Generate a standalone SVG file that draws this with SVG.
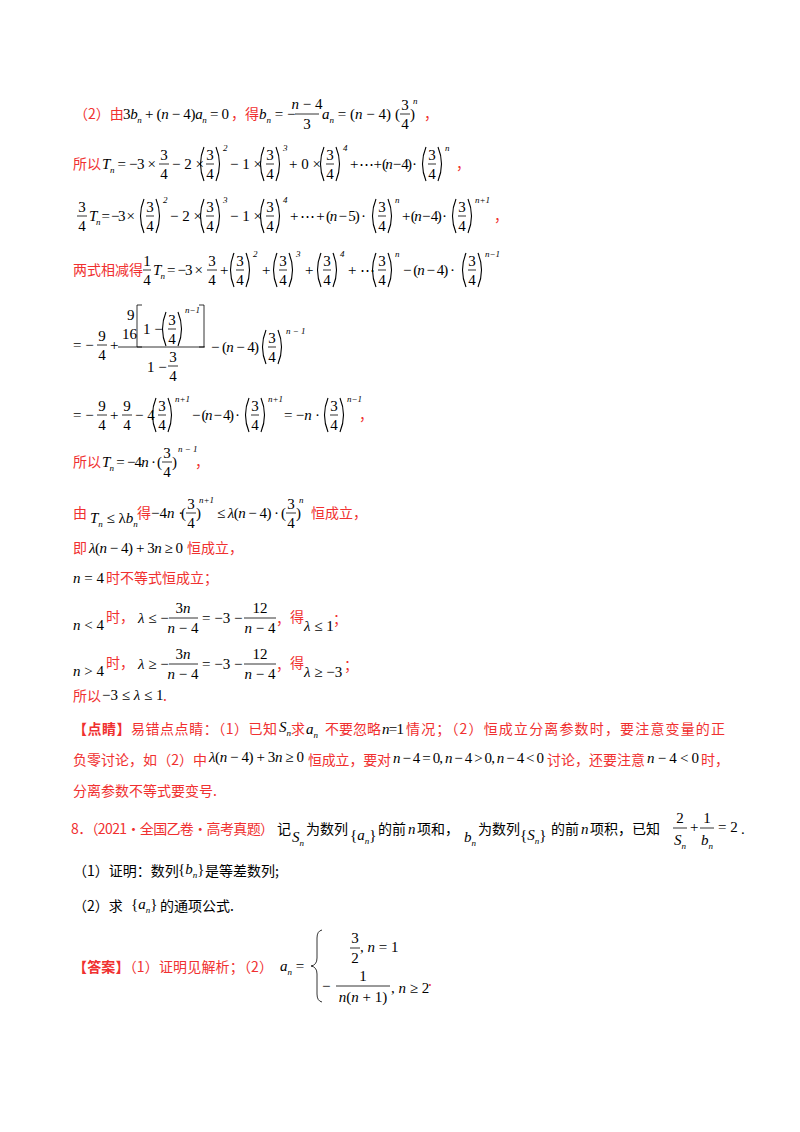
<svg xmlns="http://www.w3.org/2000/svg" xmlns:xlink="http://www.w3.org/1999/xlink" width="800" height="1132" viewBox="0 0 800 1132">
<style>
.m{font-family:"Liberation Serif",serif;font-size:15px;fill:#000}
.i{font-style:italic}
.s{font-size:9px;font-style:italic;baseline-shift:-4px}
.u{font-family:"Liberation Serif",serif;font-size:9px;font-style:italic;fill:#000}
.r{font-family:"Noto Sans CJK SC",sans-serif;font-size:14px;fill:#f03030}
.k{font-family:"Noto Sans CJK SC",sans-serif;font-size:14px;fill:#000}
.fl{stroke:#000;stroke-width:0.8;fill:none}
.pa{stroke:#000;stroke-width:1.1;fill:none}
</style>
<defs>
<g id="P"><path class="pa" d="M6,-17 Q-1,0 6,17 M18,-17 Q25,0 18,17"/><text class="m" x="12" y="-4" text-anchor="middle">3</text><line class="fl" x1="8" y1="0" x2="16" y2="0"/><text class="m" x="12" y="15" text-anchor="middle">4</text></g>
<g id="F"><text class="m" x="5" y="-4" text-anchor="middle">3</text><line class="fl" x1="0" y1="0" x2="10" y2="0"/><text class="m" x="5" y="15" text-anchor="middle">4</text></g>
<g id="N"><text class="m" x="5" y="-4" text-anchor="middle">9</text><line class="fl" x1="0" y1="0" x2="10" y2="0"/><text class="m" x="5" y="15" text-anchor="middle">4</text></g>
<g id="SP"><text class="m" x="0" y="5">(</text><use xlink:href="#F" x="5"/><text class="m" x="15" y="5">)</text></g>
</defs>
<rect width="800" height="1132" fill="#fff"/>

<g id="row1">
<text class="r" x="74" y="119">（2）由</text>
<text class="m" x="123" y="119" textLength="106">3<tspan class="i">b</tspan><tspan class="s">n</tspan> + (<tspan class="i">n</tspan> − 4)<tspan class="i">a</tspan><tspan class="s">n</tspan> = 0</text>
<text class="r" x="231" y="119">，得</text>
<text class="m" x="259" y="119"><tspan class="i">b</tspan><tspan class="s">n</tspan> = −</text>
<text class="m" x="307" y="109" text-anchor="middle"><tspan class="i">n</tspan> − 4</text>
<line class="fl" x1="295" y1="114" x2="319" y2="114"/>
<text class="m" x="307" y="129" text-anchor="middle">3</text>
<text class="m" x="322" y="119"><tspan class="i">a</tspan><tspan class="s">n</tspan> = (<tspan class="i">n</tspan> − 4)</text>
<use xlink:href="#SP" x="395" y="114"/>
<text class="u" x="413" y="104">n</text>
<text class="r" x="424" y="119">，</text>
</g>

<g id="row2">
<text class="r" x="73" y="169">所以</text>
<text class="m" x="102" y="169" textLength="54"><tspan class="i">T</tspan><tspan class="s">n</tspan> = −3 ×</text>
<use xlink:href="#F" x="159" y="164"/>
<text class="m" x="172" y="169">− 2 ×</text>
<use xlink:href="#P" x="198" y="164"/><text class="u" x="223" y="151">2</text>
<text class="m" x="230" y="169">− 1 ×</text>
<use xlink:href="#P" x="258" y="164"/><text class="u" x="283" y="151">3</text>
<text class="m" x="289" y="169">+ 0 ×</text>
<use xlink:href="#P" x="318" y="164"/><text class="u" x="343" y="151">4</text>
<text class="m" x="350" y="169" textLength="67">+ ⋯ + (<tspan class="i">n</tspan> − 4) ·</text>
<use xlink:href="#P" x="420" y="164"/><text class="u" x="445" y="151">n</text>
<text class="r" x="456" y="169">，</text>
</g>

<g id="row3">
<use xlink:href="#F" x="77" y="216"/>
<text class="m" x="89" y="221" textLength="46"><tspan class="i">T</tspan><tspan class="s">n</tspan> = −3 ×</text>
<use xlink:href="#P" x="138" y="216"/><text class="u" x="163" y="203">2</text>
<text class="m" x="170" y="221">− 2 ×</text>
<use xlink:href="#P" x="198" y="216"/><text class="u" x="223" y="203">3</text>
<text class="m" x="230" y="221">− 1 ×</text>
<use xlink:href="#P" x="258" y="216"/><text class="u" x="283" y="203">4</text>
<text class="m" x="290" y="221" textLength="76">+ ⋯ + (<tspan class="i">n</tspan> − 5) ·</text>
<use xlink:href="#P" x="370" y="216"/><text class="u" x="395" y="203">n</text>
<text class="m" x="402" y="221" textLength="45">+ (<tspan class="i">n</tspan> − 4) ·</text>
<use xlink:href="#P" x="450" y="216"/><text class="u" x="475" y="203">n+1</text>
<text class="r" x="494" y="221">，</text>
</g>

<g id="row4">
<text class="r" x="73" y="275">两式相减得</text>
<text class="m" x="147" y="266" text-anchor="middle">1</text>
<line class="fl" x1="143" y1="270" x2="151" y2="270"/>
<text class="m" x="147" y="285" text-anchor="middle">4</text>
<text class="m" x="153" y="275" textLength="50"><tspan class="i">T</tspan><tspan class="s">n</tspan> = −3 ×</text>
<use xlink:href="#F" x="207" y="270"/>
<text class="m" x="220" y="275">+</text>
<use xlink:href="#P" x="228" y="270"/><text class="u" x="253" y="257">2</text>
<text class="m" x="262" y="275">+</text>
<use xlink:href="#P" x="271" y="270"/><text class="u" x="296" y="257">3</text>
<text class="m" x="305" y="275">+</text>
<use xlink:href="#P" x="315" y="270"/><text class="u" x="340" y="257">4</text>
<text class="m" x="348" y="275">+ ⋯</text>
<use xlink:href="#P" x="370" y="270"/><text class="u" x="395" y="257">n</text>
<text class="m" x="403" y="275" textLength="52">− (<tspan class="i">n</tspan> − 4) ·</text>
<use xlink:href="#P" x="460" y="270"/><text class="u" x="485" y="257">n−1</text>
</g>

<g id="row5">
<text class="m" x="73" y="350">= −</text>
<use xlink:href="#N" x="97" y="345"/>
<text class="m" x="110" y="350">+</text>
<text class="m" x="127" y="320">9</text>
<text class="m" x="122" y="339">16</text>
<path class="fl" d="M142,305 H137 V347 H142 M199,305 H204 V347 H199"/>
<text class="m" x="143" y="334">1 −</text>
<use xlink:href="#P" x="160" y="329"/><text class="u" x="185" y="313">n−1</text>
<line class="fl" x1="118" y1="347" x2="205" y2="347"/>
<text class="m" x="147" y="372">1 −</text>
<use xlink:href="#F" x="168" y="366"/>
<text class="m" x="211" y="352" textLength="48">− (<tspan class="i">n</tspan> − 4)</text>
<use xlink:href="#P" x="260" y="347"/><text class="u" x="286" y="334">n − 1</text>
</g>

<g id="row6">
<text class="m" x="73" y="420">= −</text>
<use xlink:href="#N" x="97" y="415"/>
<text class="m" x="110" y="420">+</text>
<use xlink:href="#N" x="122" y="415"/>
<text class="m" x="135" y="420">− 4</text>
<use xlink:href="#P" x="150" y="415"/><text class="u" x="175" y="402">n+1</text>
<text class="m" x="192" y="420" textLength="48">− (<tspan class="i">n</tspan> − 4) ·</text>
<use xlink:href="#P" x="243" y="415"/><text class="u" x="268" y="402">n+1</text>
<text class="m" x="284" y="420" textLength="36">= −<tspan class="i">n</tspan> ·</text>
<use xlink:href="#P" x="322" y="415"/><text class="u" x="347" y="402">n−1</text>
<text class="r" x="359" y="420">，</text>
</g>

<g id="row7">
<text class="r" x="73" y="467">所以</text>
<text class="m" x="102" y="467" textLength="54"><tspan class="i">T</tspan><tspan class="s">n</tspan> = −4<tspan class="i">n</tspan> ·</text>
<use xlink:href="#SP" x="157" y="462"/>
<text class="u" x="178" y="452">n − 1</text>
<text class="r" x="195" y="467">，</text>
</g>

<g id="row8">
<text class="r" x="73" y="518">由</text>
<text class="m" x="90" y="523"><tspan class="i">T</tspan><tspan class="s">n</tspan> ≤ λ<tspan class="i">b</tspan><tspan class="s">n</tspan></text>
<text class="r" x="137" y="518">得</text>
<text class="m" x="151" y="518">−4<tspan class="i">n</tspan> ·</text>
<use xlink:href="#SP" x="181" y="513"/><text class="u" x="199" y="503">n+1</text>
<text class="m" x="217" y="518" textLength="62">≤ <tspan class="i">λ</tspan>(<tspan class="i">n</tspan> − 4) ·</text>
<use xlink:href="#SP" x="281" y="513"/><text class="u" x="299" y="503">n</text>
<text class="r" x="311" y="518">恒成立，</text>
</g>

<g id="row9">
<text class="r" x="73" y="553">即</text>
<text class="m" x="89" y="553" textLength="94"><tspan class="i">λ</tspan>(<tspan class="i">n</tspan> − 4) + 3<tspan class="i">n</tspan> ≥ 0</text>
<text class="r" x="187" y="553">恒成立，</text>
</g>

<g id="row10">
<text class="m" x="73" y="583"><tspan class="i">n</tspan> = 4</text>
<text class="r" x="106" y="583">时不等式恒成立；</text>
</g>

<g id="row11">
<text class="m" x="73" y="630"><tspan class="i">n</tspan> &lt; 4</text>
<text class="r" x="106" y="622">时，</text>
<text class="m" x="138" y="623"><tspan class="i">λ</tspan> ≤ −</text>
<text class="m" x="183" y="613" text-anchor="middle">3<tspan class="i">n</tspan></text>
<line class="fl" x1="169" y1="618" x2="198" y2="618"/>
<text class="m" x="183" y="633" text-anchor="middle"><tspan class="i">n</tspan> − 4</text>
<text class="m" x="202" y="623">= −3 −</text>
<text class="m" x="260" y="613" text-anchor="middle">12</text>
<line class="fl" x1="244" y1="618" x2="276" y2="618"/>
<text class="m" x="260" y="633" text-anchor="middle"><tspan class="i">n</tspan> − 4</text>
<text class="r" x="276" y="624">，</text>
<text class="r" x="290" y="622">得</text>
<text class="m" x="304" y="631"><tspan class="i">λ</tspan> ≤ 1</text>
<text class="r" x="333" y="624">；</text>
</g>

<g id="row12">
<text class="m" x="73" y="676"><tspan class="i">n</tspan> &gt; 4</text>
<text class="r" x="106" y="668">时，</text>
<text class="m" x="138" y="669"><tspan class="i">λ</tspan> ≥ −</text>
<text class="m" x="183" y="659" text-anchor="middle">3<tspan class="i">n</tspan></text>
<line class="fl" x1="169" y1="664" x2="198" y2="664"/>
<text class="m" x="183" y="679" text-anchor="middle"><tspan class="i">n</tspan> − 4</text>
<text class="m" x="202" y="669">= −3 −</text>
<text class="m" x="260" y="659" text-anchor="middle">12</text>
<line class="fl" x1="244" y1="664" x2="276" y2="664"/>
<text class="m" x="260" y="679" text-anchor="middle"><tspan class="i">n</tspan> − 4</text>
<text class="r" x="276" y="670">，</text>
<text class="r" x="290" y="668">得</text>
<text class="m" x="304" y="677"><tspan class="i">λ</tspan> ≥ −3</text>
<text class="r" x="344" y="670">；</text>
</g>

<g id="row13">
<text class="r" x="73" y="701">所以</text>
<text class="m" x="102" y="700">−3 ≤ <tspan class="i">λ</tspan> ≤ 1</text>
<text class="r" x="163" y="701">.</text>
</g>

<g id="point">
<text class="r" x="73" y="734" textLength="204"><tspan font-weight="bold">【点睛】</tspan>易错点点睛：（1）已知</text>
<text class="m" x="279" y="732"><tspan class="i">S</tspan><tspan class="s">n</tspan></text>
<text class="r" x="291" y="734">求</text>
<text class="m" x="306" y="734"><tspan class="i">a</tspan><tspan class="s">n</tspan></text>
<text class="r" x="325" y="734">不要忽略</text>
<text class="m" x="382" y="734" textLength="22"><tspan class="i">n</tspan> = 1</text>
<text class="r" x="406" y="734" textLength="319">情况；（2）恒成立分离参数时，要注意变量的正</text>
<text class="r" x="73" y="765" textLength="134">负零讨论，如（2）中</text>
<text class="m" x="209" y="762" textLength="95"><tspan class="i">λ</tspan>(<tspan class="i">n</tspan> − 4) + 3<tspan class="i">n</tspan> ≥ 0</text>
<text class="r" x="308" y="765" textLength="83">恒成立，要对</text>
<text class="m" x="393" y="763" textLength="151"><tspan class="i">n</tspan> − 4 = 0, <tspan class="i">n</tspan> − 4 &gt; 0, <tspan class="i">n</tspan> − 4 &lt; 0</text>
<text class="r" x="547" y="765" textLength="98">讨论，还要注意</text>
<text class="m" x="647" y="763" textLength="52"><tspan class="i">n</tspan> − 4 &lt; 0</text>
<text class="r" x="701" y="765">时，</text>
<text class="r" x="73" y="796">分离参数不等式要变号.</text>
</g>

<g id="q8">
<text class="r" x="71" y="834" textLength="203">8．（2021·全国乙卷·高考真题）</text>
<text class="k" x="277" y="834">记</text>
<text class="m" x="292" y="842"><tspan class="i">S</tspan><tspan class="s">n</tspan></text>
<text class="k" x="306" y="834">为数列</text>
<text class="m" x="350" y="840">{<tspan class="i">a</tspan><tspan class="s">n</tspan>}</text>
<text class="k" x="378" y="834">的前</text>
<text class="m i" x="408" y="834">n</text>
<text class="k" x="417" y="834">项和，</text>
<text class="m" x="464" y="842"><tspan class="i">b</tspan><tspan class="s">n</tspan></text>
<text class="k" x="478" y="834">为数列</text>
<text class="m" x="520" y="840">{<tspan class="i">S</tspan><tspan class="s">n</tspan>}</text>
<text class="k" x="551" y="834">的前</text>
<text class="m i" x="581" y="834">n</text>
<text class="k" x="590" y="834">项积，已知</text>
<text class="m" x="680" y="823" text-anchor="middle">2</text>
<line class="fl" x1="673" y1="828" x2="687" y2="828"/>
<text class="m" x="680" y="845" text-anchor="middle"><tspan class="i">S</tspan><tspan class="s">n</tspan></text>
<text class="m" x="690" y="832">+</text>
<text class="m" x="707" y="823" text-anchor="middle">1</text>
<line class="fl" x1="700" y1="828" x2="714" y2="828"/>
<text class="m" x="707" y="845" text-anchor="middle"><tspan class="i">b</tspan><tspan class="s">n</tspan></text>
<text class="m" x="718" y="832">= 2</text>
<text class="m" x="741" y="834">.</text>
<text class="k" x="73" y="876">（1）证明：数列</text>
<text class="m" x="178" y="874">{<tspan class="i">b</tspan><tspan class="s">n</tspan>}</text>
<text class="k" x="205" y="876">是等差数列;</text>
<text class="k" x="73" y="911">（2）求</text>
<text class="m" x="131" y="909">{<tspan class="i">a</tspan><tspan class="s">n</tspan>}</text>
<text class="k" x="160" y="911">的通项公式.</text>
</g>

<g id="answer">
<text class="r" x="73" y="972" textLength="200"><tspan font-weight="bold">【答案】</tspan>（1）证明见解析；（2）</text>
<text class="m" x="280" y="971"><tspan class="i">a</tspan><tspan class="s">n</tspan> =</text>
<path class="fl" d="M322,930 Q317,931 317,938 V958 Q317,965 311,966 Q317,967 317,974 V994 Q317,1001 322,1002"/>
<text class="m" x="355" y="943" text-anchor="middle">3</text>
<line class="fl" x1="350" y1="948" x2="360" y2="948"/>
<text class="m" x="355" y="963" text-anchor="middle">2</text>
<text class="m" x="360" y="952">, <tspan class="i">n</tspan> = 1</text>
<text class="m" x="322" y="991">−</text>
<text class="m" x="363" y="981" text-anchor="middle">1</text>
<line class="fl" x1="336" y1="986" x2="390" y2="986"/>
<text class="m" x="363" y="1002" text-anchor="middle"><tspan class="i">n</tspan>(<tspan class="i">n</tspan> + 1)</text>
<text class="m" x="391" y="993">, <tspan class="i">n</tspan> ≥ 2</text>
<text class="r" x="428" y="986" font-size="18">.</text>
</g>
</svg>
